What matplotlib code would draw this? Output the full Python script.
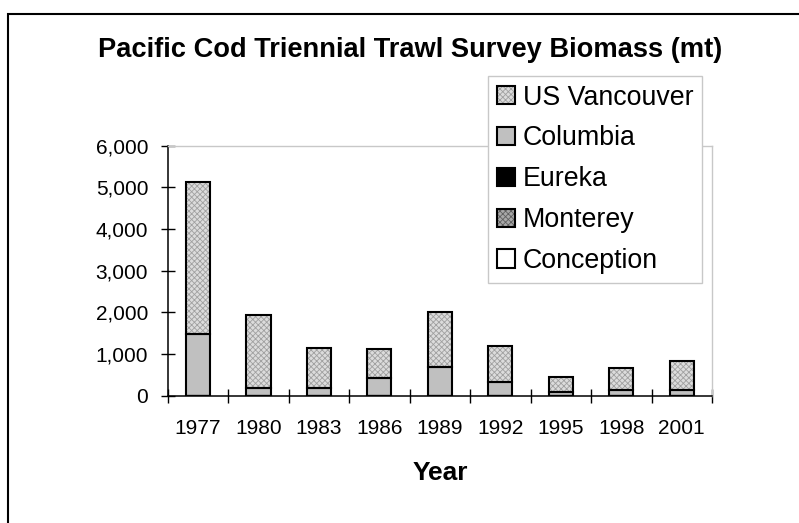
import matplotlib
matplotlib.use("Agg")
import matplotlib.pyplot as plt
from matplotlib.patches import Rectangle
from matplotlib.ticker import FuncFormatter, MultipleLocator
import numpy as np

years = ["1977", "1980", "1983", "1986", "1989", "1992", "1995", "1998", "2001"]
conception = [0, 0, 0, 0, 0, 0, 0, 0, 0]
monterey = [0, 0, 0, 0, 0, 0, 0, 0, 0]
eureka = [0, 0, 0, 0, 0, 0, 0, 0, 0]
columbia = [1480, 175, 175, 415, 695, 335, 95, 135, 135]
us_vancouver = [3655, 1760, 975, 695, 1320, 865, 360, 530, 700]

plt.rcParams['font.family'] = ['Liberation Sans', 'DejaVu Sans']
plt.rcParams['hatch.linewidth'] = 0.6

fig = plt.figure(figsize=(7.99, 5.23), dpi=100)
W, H = 799, 523

# outer chart frame (runs off the right and bottom edges)
fig.patches.append(Rectangle((8 / W, -0.1), 1.2, 1.1 - 14 / H, transform=fig.transFigure,
                             fill=False, edgecolor='black', linewidth=1.5, zorder=0))

ax = fig.add_axes([167.7 / W, 1 - 395.5 / H, (712 - 167.7) / W, (395.5 - 145.7) / H])

x = np.arange(len(years))
width = 0.4

# stack order bottom -> top, legend is shown reversed like the original
series = [
    ("Conception", conception, 'white', None, None),
    ("Monterey", monterey, '#a8a8a8', 'xxxxxx', '#606060'),
    ("Eureka", eureka, 'black', None, None),
    ("Columbia", columbia, '#c0c0c0', None, None),
    ("US Vancouver", us_vancouver, '#dcdcdc', 'xxxxxx', '#a0a0a0'),
]

bottom = np.zeros(len(years))
handles = []
labels = []
for name, vals, fc, hatch, hc in series:
    if hatch:
        fill = ax.bar(x, vals, width, bottom=bottom, color=fc, hatch=hatch,
                      edgecolor=hc, linewidth=0, zorder=2)
    else:
        fill = ax.bar(x, vals, width, bottom=bottom, color=fc, linewidth=0, zorder=2)
    outline = ax.bar(x, vals, width, bottom=bottom, fill=False, edgecolor='black',
                     linewidth=1.5, zorder=3)
    handles.append((fill, outline))
    labels.append(name)
    bottom += np.array(vals)

ax.set_xlim(-0.5, len(years) - 0.5)
ax.set_ylim(0, 6000)
ax.yaxis.set_major_locator(MultipleLocator(1000))
ax.yaxis.set_major_formatter(FuncFormatter(lambda v, p: f"{int(v):,}"))

ax.set_xticks(x)
ax.set_xticklabels(years)
ax.set_xticks(np.arange(len(years) + 1) - 0.5, minor=True)
ax.tick_params(axis='x', which='major', length=0, pad=16.6, labelsize=15)
ax.tick_params(axis='x', which='minor', direction='inout', length=9.5, width=1)
ax.tick_params(axis='y', which='major', direction='inout', length=9.5, width=1,
               pad=9.3, labelsize=15)

for side in ['left', 'bottom']:
    ax.spines[side].set_linewidth(1.1)
    ax.spines[side].set_color('black')
for side in ['top', 'right']:
    ax.spines[side].set_linewidth(1)
    ax.spines[side].set_color('#c8c8c8')

ax.set_xlabel("Year", fontsize=19, fontweight='bold', labelpad=17)

fig.text(410.5 / W, 1 - 50 / H, "Pacific Cod Triennial Trawl Survey Biomass (mt)",
         ha='center', va='center', fontsize=19.6, fontweight='bold')

leg = fig.legend(handles[::-1], labels[::-1], loc='upper left',
                 bbox_to_anchor=(488 / W, 1 - 76 / H), borderaxespad=0,
                 fontsize=19.3, frameon=True, fancybox=False, framealpha=1,
                 edgecolor='#c8c8c8', handlelength=0.68, handleheight=0.68,
                 handletextpad=0.3, labelspacing=0.555, borderpad=0.32)
leg.get_frame().set_linewidth(1)

fig.savefig("out.png", dpi=100)
